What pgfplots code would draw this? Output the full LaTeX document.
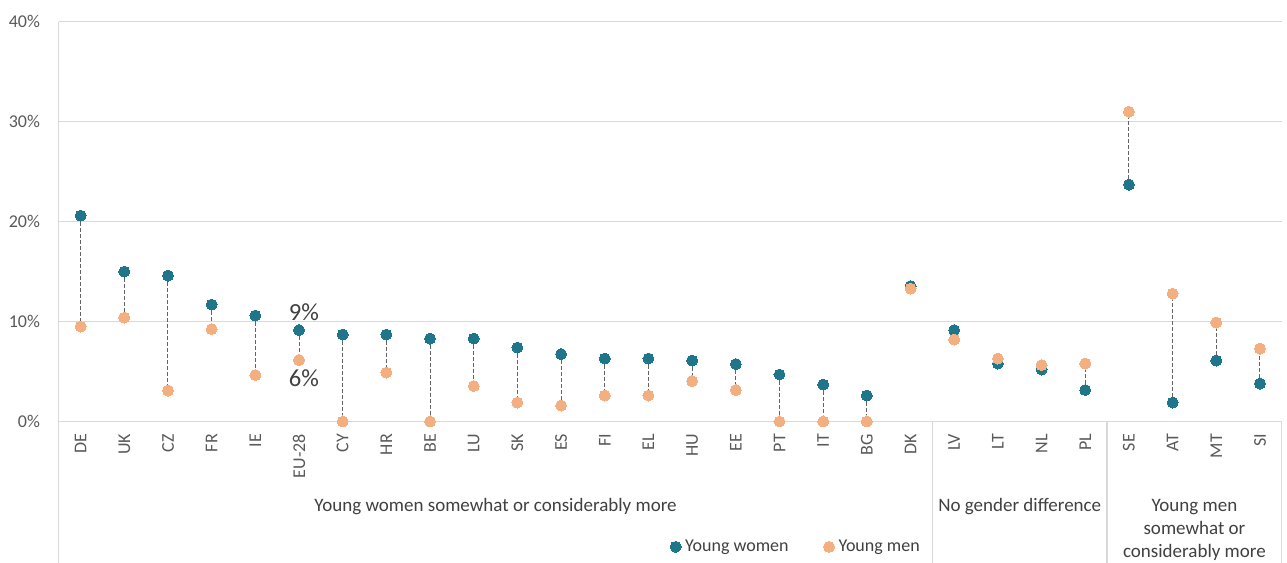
\documentclass[border=0pt]{standalone}
\usepackage{pgfplots}
\pgfplotsset{compat=1.18}
\usepackage{pgfplotstable}
\usepackage{fontspec}
\setmainfont{Carlito}
\definecolor{womenc}{RGB}{31,118,139}
\definecolor{menc}{RGB}{243,175,127}
\definecolor{gridc}{RGB}{217,217,217}
\definecolor{txt}{RGB}{89,89,89}
\definecolor{dtxt}{RGB}{64,64,64}
\definecolor{dashc}{RGB}{100,100,100}
\pgfplotstableread{
x cat women men
0 DE 20.6 9.5
1 UK 15.0 10.4
2 CZ 14.6 3.1
3 FR 11.7 9.25
4 IE 10.6 4.65
5 EU-28 9.15 6.15
6 CY 8.7 0
7 HR 8.7 4.9
8 BE 8.3 0
9 LU 8.3 3.55
10 SK 7.4 1.9
11 ES 6.75 1.6
12 FI 6.3 2.6
13 EL 6.3 2.6
14 HU 6.1 4.05
15 EE 5.75 3.15
16 PT 4.7 0
17 IT 3.7 0
18 BG 2.6 0
19 DK 13.55 13.3
20 LV 9.15 8.2
21 LT 5.8 6.3
22 NL 5.2 5.65
23 PL 3.15 5.8
24 SE 23.7 31.0
25 AT 1.9 12.8
26 MT 6.1 9.9
27 SI 3.8 7.3
}\data
\begin{document}
\begin{tikzpicture}
\begin{axis}[
  scale only axis, width=611.5pt, height=199.9pt,
  xmin=-0.5, xmax=27.5, ymin=0, ymax=40,
  axis line style={draw=none},
  clip=false,
  xtick={0,...,27},
  xticklabels from table={\data}{cat},
  ytick={0,10,20,30,40},
  yticklabels={0\%,10\%,20\%,30\%,40\%},
  major tick length=0pt,
  ymajorgrids, grid style={gridc, line width=0.6pt},
  /pgf/number format/assume math mode=true,
  tick label style={font=\fontsize{9}{10}\selectfont, text=txt},
  xticklabel style={rotate=90, anchor=east},
  xticklabel shift=2.75pt,
  yticklabel shift=5.9pt,
  legend style={at={(axis description cs:0.4996,-0.3135)}, anchor=west,
    draw=none, fill=none, inner xsep=0pt, inner ysep=0pt,
    legend columns=2, font=\fontsize{9}{10}\selectfont, text=dtxt,
    /tikz/every even column/.append style={column sep=15.5pt}},
  legend cell align=left,
  legend image code/.code={\draw[#1] plot coordinates {(0pt,0pt)};},
]
\addplot[only marks, mark=none, forget plot,
  error bars/.cd, y dir=both, y explicit, error mark=none,
  error bar style={draw=dashc, line width=0.5pt, dash pattern=on 2pt off 1pt}]
  table[x=x, y=women,
    y error plus expr={max(\thisrow{men}-\thisrow{women},0)},
    y error minus expr={max(\thisrow{women}-\thisrow{men},0)}] {\data};
\addplot[color=womenc, only marks, mark=*, mark size=2.75pt, mark options={draw=womenc, fill=womenc, line width=0pt}]
  table[x=x, y=women] {\data};
\addlegendentry{Young women}
\addplot[color=menc, only marks, mark=*, mark size=2.75pt, mark options={draw=menc, fill=menc, line width=0pt}]
  table[x=x, y=men] {\data};
\addlegendentry{Young men}
% frame / separators
\draw[gridc, line width=0.6pt] (axis cs:-0.5,40) -- (axis cs:-0.5,-14.157);
\draw[gridc, line width=0.6pt] (axis cs:19.5,0) -- (axis cs:19.5,-14.157);
\draw[gridc, line width=0.6pt] (axis cs:23.5,0) -- (axis cs:23.5,-14.157);
\draw[gridc, line width=0.6pt] (axis cs:27.5,0) -- (axis cs:27.5,-14.157);
% group labels
\node[font=\fontsize{9.5}{11.5}\selectfont, text=dtxt, align=center] at (axis cs:9.5,-8.55) {Young women somewhat or considerably more};
\node[font=\fontsize{9.5}{11.5}\selectfont, text=dtxt, align=center] at (axis cs:21.5,-8.55) {No gender difference};
\node[font=\fontsize{9.5}{11.5}\selectfont, text=dtxt, align=center] at (axis cs:25.5,-10.85) {Young men\\somewhat or\\considerably more};
% annotations
\node[font=\fontsize{12.3}{14}\selectfont, text=dtxt] at (axis cs:5.11,10.89) {9\%};
\node[font=\fontsize{12.3}{14}\selectfont, text=dtxt] at (axis cs:5.11,4.35) {6\%};
\coordinate (bbll) at (axis cs:-1.846,-14.157);
\coordinate (bbur) at (axis cs:27.619,42.17);
\end{axis}
\pgfresetboundingbox
\path[use as bounding box] (bbll) rectangle (bbur);
\end{tikzpicture}
\end{document}
